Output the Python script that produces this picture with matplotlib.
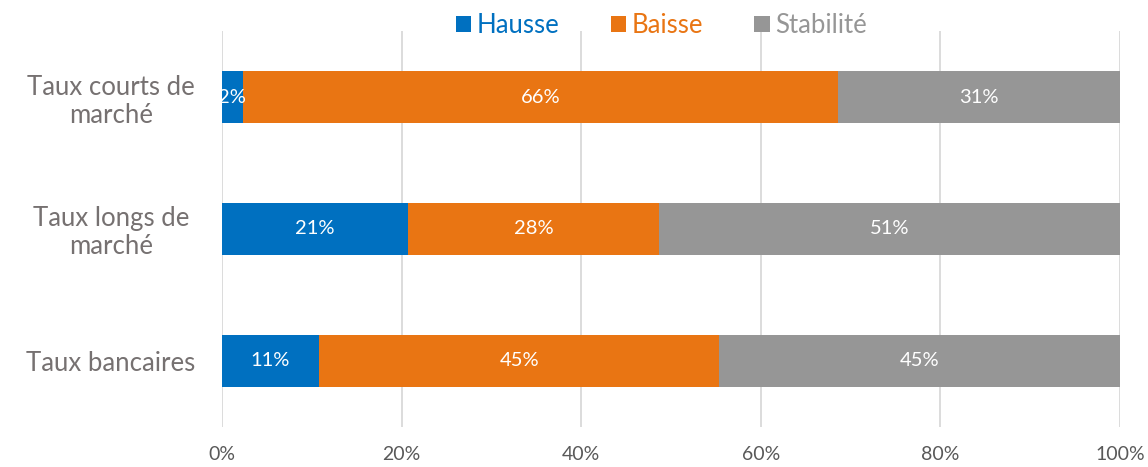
import matplotlib.pyplot as plt
import numpy as np

plt.rcParams['font.family'] = ['Lato', 'DejaVu Sans']

# Values (share of answers, %)
categories = ['Taux courts de\nmarché', 'Taux longs de\nmarché', 'Taux bancaires']
hausse = [2.3, 20.7, 10.8]
baisse = [66.3, 28.0, 44.6]
stabilite = [31.4, 51.3, 44.6]

series = [('Hausse', hausse, '#0070C0'),
          ('Baisse', baisse, '#E97513'),
          ('Stabilité', stabilite, '#969696')]

fig = plt.figure(figsize=(11.48, 4.67), dpi=100)
ax = fig.add_axes([0.1934, 0.0857, 0.7822, 0.8479])

y = np.arange(len(categories))
left = np.zeros(len(categories))
for name, vals, col in series:
    vals = np.array(vals)
    ax.barh(y, vals, left=left, height=0.394, color=col, label=name, zorder=3)
    for yi, l, v in zip(y, left, vals):
        ax.text(l + v / 2, yi, f'{round(v):.0f}%', ha='center', va='center',
                color='white', fontsize=14.5, zorder=4)
    left = left + vals

ax.set_xlim(0, 100)
ax.set_ylim(len(categories) - 0.5, -0.5)
ax.set_xticks(np.arange(0, 101, 20))
ax.set_xticklabels([f'{t}%' for t in range(0, 101, 20)], color='#595959', fontsize=14)
ax.set_yticks(y)
ax.set_yticklabels(categories, color='#767171', fontsize=18.5, ha='center',
                   linespacing=1.15)
ax.tick_params(axis='y', length=0, pad=80)
ax.tick_params(axis='x', length=0, pad=14)
ax.grid(axis='x', color='#D9D9D9', linewidth=1.3, zorder=0)
for s in ax.spines.values():
    s.set_visible(False)

leg = fig.legend(loc='center', bbox_to_anchor=(0.576, 0.946), ncol=3, frameon=False,
                 fontsize=18.5, handlelength=0.6, handleheight=0.6, handletextpad=0.2,
                 columnspacing=2.0, borderaxespad=0)
for txt, (_, _, col) in zip(leg.get_texts(), series):
    txt.set_color(col)

fig.savefig('out.png', dpi=100, facecolor='white')
